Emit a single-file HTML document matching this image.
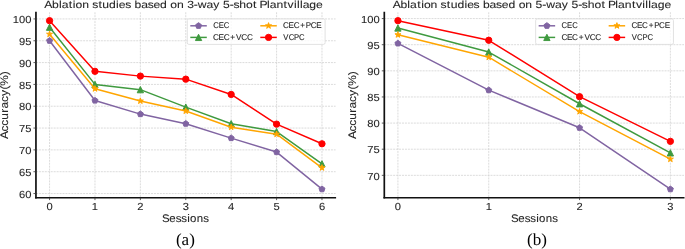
<!DOCTYPE html>
<html><head><meta charset="utf-8"><title>Ablation studies</title>
<style>html,body{margin:0;padding:0;background:#fff;width:685px;height:249px;overflow:hidden}svg{display:block;filter:blur(0.35px)}</style>
</head><body>
<svg width="685" height="249" viewBox="0 0 685 249" font-family="Liberation Sans, sans-serif" text-rendering="geometricPrecision">
<rect width="685" height="249" fill="#fff"/>
<line x1="35.95" y1="193.54" x2="335.60" y2="193.54" stroke="#d0d0d0" stroke-width="0.75" stroke-dasharray="2,0.95"/>
<line x1="35.95" y1="171.71" x2="335.60" y2="171.71" stroke="#d0d0d0" stroke-width="0.75" stroke-dasharray="2,0.95"/>
<line x1="35.95" y1="149.89" x2="335.60" y2="149.89" stroke="#d0d0d0" stroke-width="0.75" stroke-dasharray="2,0.95"/>
<line x1="35.95" y1="128.06" x2="335.60" y2="128.06" stroke="#d0d0d0" stroke-width="0.75" stroke-dasharray="2,0.95"/>
<line x1="35.95" y1="106.23" x2="335.60" y2="106.23" stroke="#d0d0d0" stroke-width="0.75" stroke-dasharray="2,0.95"/>
<line x1="35.95" y1="84.41" x2="335.60" y2="84.41" stroke="#d0d0d0" stroke-width="0.75" stroke-dasharray="2,0.95"/>
<line x1="35.95" y1="62.58" x2="335.60" y2="62.58" stroke="#d0d0d0" stroke-width="0.75" stroke-dasharray="2,0.95"/>
<line x1="35.95" y1="40.76" x2="335.60" y2="40.76" stroke="#d0d0d0" stroke-width="0.75" stroke-dasharray="2,0.95"/>
<line x1="35.95" y1="18.93" x2="335.60" y2="18.93" stroke="#d0d0d0" stroke-width="0.75" stroke-dasharray="2,0.95"/>
<line x1="49.57" y1="12.25" x2="49.57" y2="197.60" stroke="#d0d0d0" stroke-width="0.75" stroke-dasharray="2,0.95"/>
<line x1="94.97" y1="12.25" x2="94.97" y2="197.60" stroke="#d0d0d0" stroke-width="0.75" stroke-dasharray="2,0.95"/>
<line x1="140.37" y1="12.25" x2="140.37" y2="197.60" stroke="#d0d0d0" stroke-width="0.75" stroke-dasharray="2,0.95"/>
<line x1="185.78" y1="12.25" x2="185.78" y2="197.60" stroke="#d0d0d0" stroke-width="0.75" stroke-dasharray="2,0.95"/>
<line x1="231.18" y1="12.25" x2="231.18" y2="197.60" stroke="#d0d0d0" stroke-width="0.75" stroke-dasharray="2,0.95"/>
<line x1="276.58" y1="12.25" x2="276.58" y2="197.60" stroke="#d0d0d0" stroke-width="0.75" stroke-dasharray="2,0.95"/>
<line x1="321.98" y1="12.25" x2="321.98" y2="197.60" stroke="#d0d0d0" stroke-width="0.75" stroke-dasharray="2,0.95"/>
<polyline points="49.57,40.76 94.97,100.56 140.37,114.09 185.78,123.70 231.18,138.10 276.58,152.07 321.98,189.17" fill="none" stroke="#8064a2" stroke-width="1.47" stroke-linejoin="round" stroke-linecap="butt"/>
<polygon points="49.57,37.61 46.57,39.78 47.72,43.30 51.42,43.30 52.57,39.78" fill="#8064a2" stroke="#8064a2" stroke-width="0.98" stroke-linejoin="round"/>
<polygon points="94.97,97.41 91.98,99.59 93.12,103.11 96.82,103.11 97.97,99.59" fill="#8064a2" stroke="#8064a2" stroke-width="0.98" stroke-linejoin="round"/>
<polygon points="140.37,110.94 137.38,113.12 138.52,116.64 142.23,116.64 143.37,113.12" fill="#8064a2" stroke="#8064a2" stroke-width="0.98" stroke-linejoin="round"/>
<polygon points="185.78,120.55 182.78,122.72 183.92,126.24 187.63,126.24 188.77,122.72" fill="#8064a2" stroke="#8064a2" stroke-width="0.98" stroke-linejoin="round"/>
<polygon points="231.18,134.95 228.18,137.13 229.32,140.65 233.03,140.65 234.17,137.13" fill="#8064a2" stroke="#8064a2" stroke-width="0.98" stroke-linejoin="round"/>
<polygon points="276.58,148.92 273.58,151.10 274.73,154.62 278.43,154.62 279.57,151.10" fill="#8064a2" stroke="#8064a2" stroke-width="0.98" stroke-linejoin="round"/>
<polygon points="321.98,186.02 318.98,188.20 320.13,191.72 323.83,191.72 324.98,188.20" fill="#8064a2" stroke="#8064a2" stroke-width="0.98" stroke-linejoin="round"/>
<polyline points="49.57,27.22 94.97,84.41 140.37,89.65 185.78,107.11 231.18,123.70 276.58,131.55 321.98,163.86" fill="none" stroke="#3f9a3f" stroke-width="1.47" stroke-linejoin="round" stroke-linecap="butt"/>
<polygon points="49.57,24.07 46.42,30.37 52.72,30.37" fill="#3f9a3f" stroke="#3f9a3f" stroke-width="0.98" stroke-linejoin="round"/>
<polygon points="94.97,81.26 91.82,87.56 98.12,87.56" fill="#3f9a3f" stroke="#3f9a3f" stroke-width="0.98" stroke-linejoin="round"/>
<polygon points="140.37,86.50 137.22,92.80 143.52,92.80" fill="#3f9a3f" stroke="#3f9a3f" stroke-width="0.98" stroke-linejoin="round"/>
<polygon points="185.78,103.96 182.63,110.26 188.93,110.26" fill="#3f9a3f" stroke="#3f9a3f" stroke-width="0.98" stroke-linejoin="round"/>
<polygon points="231.18,120.55 228.03,126.85 234.33,126.85" fill="#3f9a3f" stroke="#3f9a3f" stroke-width="0.98" stroke-linejoin="round"/>
<polygon points="276.58,128.40 273.43,134.70 279.73,134.70" fill="#3f9a3f" stroke="#3f9a3f" stroke-width="0.98" stroke-linejoin="round"/>
<polygon points="321.98,160.71 318.83,167.01 325.13,167.01" fill="#3f9a3f" stroke="#3f9a3f" stroke-width="0.98" stroke-linejoin="round"/>
<polyline points="49.57,34.21 94.97,88.77 140.37,101.00 185.78,111.04 231.18,127.19 276.58,134.17 321.98,167.79" fill="none" stroke="#ffa500" stroke-width="1.47" stroke-linejoin="round" stroke-linecap="butt"/>
<polygon points="49.57,31.06 48.86,33.23 46.57,33.23 48.43,34.58 47.72,36.76 49.57,35.41 51.42,36.76 50.71,34.58 52.57,33.23 50.28,33.23" fill="#ffa500" stroke="#ffa500" stroke-width="0.98" stroke-linejoin="round"/>
<polygon points="94.97,85.62 94.26,87.80 91.98,87.80 93.83,89.15 93.12,91.32 94.97,89.98 96.82,91.32 96.12,89.15 97.97,87.80 95.68,87.80" fill="#ffa500" stroke="#ffa500" stroke-width="0.98" stroke-linejoin="round"/>
<polygon points="140.37,97.85 139.67,100.02 137.38,100.02 139.23,101.37 138.52,103.54 140.37,102.20 142.23,103.54 141.52,101.37 143.37,100.02 141.08,100.02" fill="#ffa500" stroke="#ffa500" stroke-width="0.98" stroke-linejoin="round"/>
<polygon points="185.78,107.89 185.07,110.06 182.78,110.06 184.63,111.41 183.92,113.58 185.78,112.24 187.63,113.58 186.92,111.41 188.77,110.06 186.48,110.06" fill="#ffa500" stroke="#ffa500" stroke-width="0.98" stroke-linejoin="round"/>
<polygon points="231.18,124.04 230.47,126.21 228.18,126.21 230.03,127.56 229.32,129.74 231.18,128.39 233.03,129.74 232.32,127.56 234.17,126.21 231.88,126.21" fill="#ffa500" stroke="#ffa500" stroke-width="0.98" stroke-linejoin="round"/>
<polygon points="276.58,131.02 275.87,133.20 273.58,133.20 275.43,134.54 274.73,136.72 276.58,135.38 278.43,136.72 277.72,134.54 279.57,133.20 277.29,133.20" fill="#ffa500" stroke="#ffa500" stroke-width="0.98" stroke-linejoin="round"/>
<polygon points="321.98,164.64 321.27,166.81 318.98,166.81 320.84,168.16 320.13,170.33 321.98,168.99 323.83,170.33 323.12,168.16 324.98,166.81 322.69,166.81" fill="#ffa500" stroke="#ffa500" stroke-width="0.98" stroke-linejoin="round"/>
<polyline points="49.57,20.68 94.97,71.31 140.37,76.11 185.78,79.17 231.18,94.45 276.58,124.13 321.98,143.78" fill="none" stroke="#ff0000" stroke-width="1.47" stroke-linejoin="round" stroke-linecap="butt"/>
<circle cx="49.57" cy="20.68" r="3.15" fill="#ff0000" stroke="#ff0000" stroke-width="0.98"/>
<circle cx="94.97" cy="71.31" r="3.15" fill="#ff0000" stroke="#ff0000" stroke-width="0.98"/>
<circle cx="140.37" cy="76.11" r="3.15" fill="#ff0000" stroke="#ff0000" stroke-width="0.98"/>
<circle cx="185.78" cy="79.17" r="3.15" fill="#ff0000" stroke="#ff0000" stroke-width="0.98"/>
<circle cx="231.18" cy="94.45" r="3.15" fill="#ff0000" stroke="#ff0000" stroke-width="0.98"/>
<circle cx="276.58" cy="124.13" r="3.15" fill="#ff0000" stroke="#ff0000" stroke-width="0.98"/>
<circle cx="321.98" cy="143.78" r="3.15" fill="#ff0000" stroke="#ff0000" stroke-width="0.98"/>
<rect x="187.30" y="18.90" width="137.80" height="25.50" rx="1.6" fill="#ffffff" fill-opacity="0.8" stroke="#dadada" stroke-width="0.8"/>
<line x1="190.30" y1="25.80" x2="206.80" y2="25.80" stroke="#8064a2" stroke-width="1.47"/>
<polygon points="198.55,22.65 195.55,24.83 196.70,28.35 200.40,28.35 201.55,24.83" fill="#8064a2" stroke="#8064a2" stroke-width="0.98" stroke-linejoin="round"/>
<text x="0.02 6.05 11.62" y="0" font-size="8.38" fill="#262626" stroke="#262626" stroke-width="0.109" transform="translate(213.20 28.45) scale(0.9149 1)">CEC</text>
<line x1="190.30" y1="37.40" x2="206.80" y2="37.40" stroke="#3f9a3f" stroke-width="1.47"/>
<polygon points="198.55,34.25 195.40,40.55 201.70,40.55" fill="#3f9a3f" stroke="#3f9a3f" stroke-width="0.98" stroke-linejoin="round"/>
<text x="-0.18 5.46 10.65 17.48 23.33 28.72 34.41" y="0" font-size="8.38" fill="#262626" stroke="#262626" stroke-width="0.102" transform="translate(213.20 40.05) scale(0.9801 1)">CEC+VCC</text>
<line x1="260.30" y1="25.80" x2="276.80" y2="25.80" stroke="#ffa500" stroke-width="1.47"/>
<polygon points="268.55,22.65 267.84,24.83 265.55,24.83 267.41,26.17 266.70,28.35 268.55,27.00 270.40,28.35 269.69,26.17 271.55,24.83 269.26,24.83" fill="#ffa500" stroke="#ffa500" stroke-width="0.98" stroke-linejoin="round"/>
<text x="-0.13 5.62 10.90 17.85 23.48 28.65 34.40" y="0" font-size="8.38" fill="#262626" stroke="#262626" stroke-width="0.104" transform="translate(283.20 28.45) scale(0.9620 1)">CEC+PCE</text>
<line x1="260.30" y1="37.40" x2="276.80" y2="37.40" stroke="#ff0000" stroke-width="1.47"/>
<circle cx="268.55" cy="37.40" r="3.15" fill="#ff0000" stroke="#ff0000" stroke-width="0.98"/>
<text x="0.17 5.94 11.81 17.23" y="0" font-size="8.38" fill="#262626" stroke="#262626" stroke-width="0.109" transform="translate(283.20 40.05) scale(0.9199 1)">VCPC</text>
<line x1="35.95" y1="11.75" x2="35.95" y2="198.45" stroke="#111111" stroke-width="1.7"/>
<line x1="35.10" y1="197.75" x2="336.10" y2="197.75" stroke="#111111" stroke-width="1.7"/>
<line x1="33.45" y1="193.54" x2="35.95" y2="193.54" stroke="#333" stroke-width="0.8"/>
<text x="-11.36 -5.68" y="0" font-size="10.21" fill="#262626" stroke="#262626" stroke-width="0.091" transform="translate(31.50 197.79) scale(1.0947 1)">60</text>
<line x1="33.45" y1="171.71" x2="35.95" y2="171.71" stroke="#333" stroke-width="0.8"/>
<text x="-11.36 -5.68" y="0" font-size="10.21" fill="#262626" stroke="#262626" stroke-width="0.091" transform="translate(31.50 175.96) scale(1.0947 1)">65</text>
<line x1="33.45" y1="149.89" x2="35.95" y2="149.89" stroke="#333" stroke-width="0.8"/>
<text x="-11.36 -5.68" y="0" font-size="10.21" fill="#262626" stroke="#262626" stroke-width="0.091" transform="translate(31.50 154.14) scale(1.0947 1)">70</text>
<line x1="33.45" y1="128.06" x2="35.95" y2="128.06" stroke="#333" stroke-width="0.8"/>
<text x="-11.36 -5.68" y="0" font-size="10.21" fill="#262626" stroke="#262626" stroke-width="0.091" transform="translate(31.50 132.31) scale(1.0947 1)">75</text>
<line x1="33.45" y1="106.23" x2="35.95" y2="106.23" stroke="#333" stroke-width="0.8"/>
<text x="-11.36 -5.68" y="0" font-size="10.21" fill="#262626" stroke="#262626" stroke-width="0.091" transform="translate(31.50 110.48) scale(1.0947 1)">80</text>
<line x1="33.45" y1="84.41" x2="35.95" y2="84.41" stroke="#333" stroke-width="0.8"/>
<text x="-11.36 -5.68" y="0" font-size="10.21" fill="#262626" stroke="#262626" stroke-width="0.091" transform="translate(31.50 88.66) scale(1.0947 1)">85</text>
<line x1="33.45" y1="62.58" x2="35.95" y2="62.58" stroke="#333" stroke-width="0.8"/>
<text x="-11.36 -5.68" y="0" font-size="10.21" fill="#262626" stroke="#262626" stroke-width="0.091" transform="translate(31.50 66.83) scale(1.0947 1)">90</text>
<line x1="33.45" y1="40.76" x2="35.95" y2="40.76" stroke="#333" stroke-width="0.8"/>
<text x="-11.36 -5.68" y="0" font-size="10.21" fill="#262626" stroke="#262626" stroke-width="0.091" transform="translate(31.50 45.01) scale(1.0947 1)">95</text>
<line x1="33.45" y1="18.93" x2="35.95" y2="18.93" stroke="#333" stroke-width="0.8"/>
<text x="-17.03 -11.36 -5.68" y="0" font-size="10.21" fill="#262626" stroke="#262626" stroke-width="0.091" transform="translate(31.50 23.18) scale(1.0947 1)">100</text>
<line x1="49.57" y1="197.60" x2="49.57" y2="200.10" stroke="#333" stroke-width="0.8"/>
<text x="-2.84" y="0" font-size="10.21" fill="#262626" stroke="#262626" stroke-width="0.091" transform="translate(49.57 209.80) scale(1.0947 1)">0</text>
<line x1="94.97" y1="197.60" x2="94.97" y2="200.10" stroke="#333" stroke-width="0.8"/>
<text x="-2.84" y="0" font-size="10.21" fill="#262626" stroke="#262626" stroke-width="0.091" transform="translate(94.97 209.80) scale(1.0947 1)">1</text>
<line x1="140.37" y1="197.60" x2="140.37" y2="200.10" stroke="#333" stroke-width="0.8"/>
<text x="-2.84" y="0" font-size="10.21" fill="#262626" stroke="#262626" stroke-width="0.091" transform="translate(140.37 209.80) scale(1.0947 1)">2</text>
<line x1="185.78" y1="197.60" x2="185.78" y2="200.10" stroke="#333" stroke-width="0.8"/>
<text x="-2.84" y="0" font-size="10.21" fill="#262626" stroke="#262626" stroke-width="0.091" transform="translate(185.78 209.80) scale(1.0947 1)">3</text>
<line x1="231.18" y1="197.60" x2="231.18" y2="200.10" stroke="#333" stroke-width="0.8"/>
<text x="-2.84" y="0" font-size="10.21" fill="#262626" stroke="#262626" stroke-width="0.091" transform="translate(231.18 209.80) scale(1.0947 1)">4</text>
<line x1="276.58" y1="197.60" x2="276.58" y2="200.10" stroke="#333" stroke-width="0.8"/>
<text x="-2.84" y="0" font-size="10.21" fill="#262626" stroke="#262626" stroke-width="0.091" transform="translate(276.58 209.80) scale(1.0947 1)">5</text>
<line x1="321.98" y1="197.60" x2="321.98" y2="200.10" stroke="#333" stroke-width="0.8"/>
<text x="-2.84" y="0" font-size="10.21" fill="#262626" stroke="#262626" stroke-width="0.091" transform="translate(321.98 209.80) scale(1.0947 1)">6</text>
<text x="-22.65 -15.63 -9.49 -4.14 1.48 4.21 10.60 16.83" y="0" font-size="10.96" fill="#262626" stroke="#262626" stroke-width="0.095" transform="translate(185.60 222.30) scale(1.0478 1)">Sessions</text>
<text x="-31.35 -24.35 -19.09 -13.56 -7.18 -3.35 2.70 8.33 14.09 17.66 27.32" y="0" font-size="10.96" fill="#262626" stroke="#262626" stroke-width="0.092" transform="translate(8.10 104.95) rotate(-90) scale(1.0891 1)">Accuracy(%)</text>
<text x="-118.22 -111.64 -105.75 -103.42 -97.41 -94.07 -91.74 -86.06 -80.29 -77.61 -72.31 -69.07 -63.29 -57.41 -55.06 -49.59 -44.63 -41.72 -36.04 -30.58 -25.70 -20.00 -14.22 -11.42 -5.75 0.02 2.93 8.63 11.99 19.37 25.14 30.44 33.35 39.04 42.20 47.17 52.84 58.85 62.09 64.28 70.59 72.92 78.60 84.71 88.05 93.44 95.97 98.51 100.84 106.52 112.22" y="0" font-size="10.32" fill="#262626" stroke="#262626" stroke-width="0.085" transform="translate(183.70 8.00) scale(1.1797 1)">Ablation studies based on 3-way 5-shot Plantvillage</text>
<text x="185.40" y="245.40" font-family="Liberation Serif, serif" font-size="17.0" text-anchor="middle" fill="#000">(a)</text>
<line x1="384.30" y1="175.34" x2="684.00" y2="175.34" stroke="#d0d0d0" stroke-width="0.75" stroke-dasharray="2,0.95"/>
<line x1="384.30" y1="149.21" x2="684.00" y2="149.21" stroke="#d0d0d0" stroke-width="0.75" stroke-dasharray="2,0.95"/>
<line x1="384.30" y1="123.08" x2="684.00" y2="123.08" stroke="#d0d0d0" stroke-width="0.75" stroke-dasharray="2,0.95"/>
<line x1="384.30" y1="96.96" x2="684.00" y2="96.96" stroke="#d0d0d0" stroke-width="0.75" stroke-dasharray="2,0.95"/>
<line x1="384.30" y1="70.83" x2="684.00" y2="70.83" stroke="#d0d0d0" stroke-width="0.75" stroke-dasharray="2,0.95"/>
<line x1="384.30" y1="44.70" x2="684.00" y2="44.70" stroke="#d0d0d0" stroke-width="0.75" stroke-dasharray="2,0.95"/>
<line x1="384.30" y1="18.57" x2="684.00" y2="18.57" stroke="#d0d0d0" stroke-width="0.75" stroke-dasharray="2,0.95"/>
<line x1="397.92" y1="12.25" x2="397.92" y2="197.60" stroke="#d0d0d0" stroke-width="0.75" stroke-dasharray="2,0.95"/>
<line x1="488.74" y1="12.25" x2="488.74" y2="197.60" stroke="#d0d0d0" stroke-width="0.75" stroke-dasharray="2,0.95"/>
<line x1="579.56" y1="12.25" x2="579.56" y2="197.60" stroke="#d0d0d0" stroke-width="0.75" stroke-dasharray="2,0.95"/>
<line x1="670.38" y1="12.25" x2="670.38" y2="197.60" stroke="#d0d0d0" stroke-width="0.75" stroke-dasharray="2,0.95"/>
<polyline points="397.92,43.39 488.74,90.16 579.56,127.79 670.38,189.19" fill="none" stroke="#8064a2" stroke-width="1.47" stroke-linejoin="round" stroke-linecap="butt"/>
<polygon points="397.92,40.24 394.93,42.42 396.07,45.94 399.77,45.94 400.92,42.42" fill="#8064a2" stroke="#8064a2" stroke-width="0.98" stroke-linejoin="round"/>
<polygon points="488.74,87.01 485.75,89.19 486.89,92.71 490.59,92.71 491.74,89.19" fill="#8064a2" stroke="#8064a2" stroke-width="0.98" stroke-linejoin="round"/>
<polygon points="579.56,124.64 576.56,126.81 577.71,130.34 581.41,130.34 582.55,126.81" fill="#8064a2" stroke="#8064a2" stroke-width="0.98" stroke-linejoin="round"/>
<polygon points="670.38,186.04 667.38,188.21 668.53,191.74 672.23,191.74 673.37,188.21" fill="#8064a2" stroke="#8064a2" stroke-width="0.98" stroke-linejoin="round"/>
<polyline points="397.92,27.98 488.74,52.02 579.56,103.75 670.38,152.87" fill="none" stroke="#3f9a3f" stroke-width="1.47" stroke-linejoin="round" stroke-linecap="butt"/>
<polygon points="397.92,24.83 394.77,31.13 401.07,31.13" fill="#3f9a3f" stroke="#3f9a3f" stroke-width="0.98" stroke-linejoin="round"/>
<polygon points="488.74,48.87 485.59,55.17 491.89,55.17" fill="#3f9a3f" stroke="#3f9a3f" stroke-width="0.98" stroke-linejoin="round"/>
<polygon points="579.56,100.60 576.41,106.90 582.71,106.90" fill="#3f9a3f" stroke="#3f9a3f" stroke-width="0.98" stroke-linejoin="round"/>
<polygon points="670.38,149.72 667.23,156.02 673.53,156.02" fill="#3f9a3f" stroke="#3f9a3f" stroke-width="0.98" stroke-linejoin="round"/>
<polyline points="397.92,34.77 488.74,57.24 579.56,111.59 670.38,159.14" fill="none" stroke="#ffa500" stroke-width="1.47" stroke-linejoin="round" stroke-linecap="butt"/>
<polygon points="397.92,31.62 397.22,33.80 394.93,33.80 396.78,35.14 396.07,37.32 397.92,35.98 399.77,37.32 399.07,35.14 400.92,33.80 398.63,33.80" fill="#ffa500" stroke="#ffa500" stroke-width="0.98" stroke-linejoin="round"/>
<polygon points="488.74,54.09 488.03,56.27 485.75,56.27 487.60,57.61 486.89,59.79 488.74,58.45 490.59,59.79 489.89,57.61 491.74,56.27 489.45,56.27" fill="#ffa500" stroke="#ffa500" stroke-width="0.98" stroke-linejoin="round"/>
<polygon points="579.56,108.44 578.85,110.61 576.56,110.61 578.41,111.96 577.71,114.14 579.56,112.79 581.41,114.14 580.70,111.96 582.55,110.61 580.27,110.61" fill="#ffa500" stroke="#ffa500" stroke-width="0.98" stroke-linejoin="round"/>
<polygon points="670.38,155.99 669.67,158.17 667.38,158.17 669.23,159.51 668.53,161.69 670.38,160.34 672.23,161.69 671.52,159.51 673.37,158.17 671.08,158.17" fill="#ffa500" stroke="#ffa500" stroke-width="0.98" stroke-linejoin="round"/>
<polyline points="397.92,20.66 488.74,40.26 579.56,96.69 670.38,141.37" fill="none" stroke="#ff0000" stroke-width="1.47" stroke-linejoin="round" stroke-linecap="butt"/>
<circle cx="397.92" cy="20.66" r="3.15" fill="#ff0000" stroke="#ff0000" stroke-width="0.98"/>
<circle cx="488.74" cy="40.26" r="3.15" fill="#ff0000" stroke="#ff0000" stroke-width="0.98"/>
<circle cx="579.56" cy="96.69" r="3.15" fill="#ff0000" stroke="#ff0000" stroke-width="0.98"/>
<circle cx="670.38" cy="141.37" r="3.15" fill="#ff0000" stroke="#ff0000" stroke-width="0.98"/>
<rect x="535.65" y="18.90" width="137.80" height="25.50" rx="1.6" fill="#ffffff" fill-opacity="0.8" stroke="#dadada" stroke-width="0.8"/>
<line x1="538.65" y1="25.80" x2="555.15" y2="25.80" stroke="#8064a2" stroke-width="1.47"/>
<polygon points="546.90,22.65 543.90,24.83 545.05,28.35 548.75,28.35 549.90,24.83" fill="#8064a2" stroke="#8064a2" stroke-width="0.98" stroke-linejoin="round"/>
<text x="0.02 6.05 11.62" y="0" font-size="8.38" fill="#262626" stroke="#262626" stroke-width="0.109" transform="translate(561.55 28.45) scale(0.9149 1)">CEC</text>
<line x1="538.65" y1="37.40" x2="555.15" y2="37.40" stroke="#3f9a3f" stroke-width="1.47"/>
<polygon points="546.90,34.25 543.75,40.55 550.05,40.55" fill="#3f9a3f" stroke="#3f9a3f" stroke-width="0.98" stroke-linejoin="round"/>
<text x="-0.18 5.46 10.65 17.48 23.33 28.72 34.41" y="0" font-size="8.38" fill="#262626" stroke="#262626" stroke-width="0.102" transform="translate(561.55 40.05) scale(0.9801 1)">CEC+VCC</text>
<line x1="608.65" y1="25.80" x2="625.15" y2="25.80" stroke="#ffa500" stroke-width="1.47"/>
<polygon points="616.90,22.65 616.19,24.83 613.90,24.83 615.76,26.17 615.05,28.35 616.90,27.00 618.75,28.35 618.04,26.17 619.90,24.83 617.61,24.83" fill="#ffa500" stroke="#ffa500" stroke-width="0.98" stroke-linejoin="round"/>
<text x="-0.13 5.62 10.90 17.85 23.48 28.65 34.40" y="0" font-size="8.38" fill="#262626" stroke="#262626" stroke-width="0.104" transform="translate(631.55 28.45) scale(0.9620 1)">CEC+PCE</text>
<line x1="608.65" y1="37.40" x2="625.15" y2="37.40" stroke="#ff0000" stroke-width="1.47"/>
<circle cx="616.90" cy="37.40" r="3.15" fill="#ff0000" stroke="#ff0000" stroke-width="0.98"/>
<text x="0.17 5.94 11.81 17.23" y="0" font-size="8.38" fill="#262626" stroke="#262626" stroke-width="0.109" transform="translate(631.55 40.05) scale(0.9199 1)">VCPC</text>
<line x1="384.30" y1="11.75" x2="384.30" y2="198.45" stroke="#111111" stroke-width="1.7"/>
<line x1="383.45" y1="197.75" x2="684.50" y2="197.75" stroke="#111111" stroke-width="1.7"/>
<line x1="381.80" y1="175.34" x2="384.30" y2="175.34" stroke="#333" stroke-width="0.8"/>
<text x="-11.36 -5.68" y="0" font-size="10.21" fill="#262626" stroke="#262626" stroke-width="0.091" transform="translate(379.75 179.59) scale(1.0947 1)">70</text>
<line x1="381.80" y1="149.21" x2="384.30" y2="149.21" stroke="#333" stroke-width="0.8"/>
<text x="-11.36 -5.68" y="0" font-size="10.21" fill="#262626" stroke="#262626" stroke-width="0.091" transform="translate(379.75 153.46) scale(1.0947 1)">75</text>
<line x1="381.80" y1="123.08" x2="384.30" y2="123.08" stroke="#333" stroke-width="0.8"/>
<text x="-11.36 -5.68" y="0" font-size="10.21" fill="#262626" stroke="#262626" stroke-width="0.091" transform="translate(379.75 127.33) scale(1.0947 1)">80</text>
<line x1="381.80" y1="96.96" x2="384.30" y2="96.96" stroke="#333" stroke-width="0.8"/>
<text x="-11.36 -5.68" y="0" font-size="10.21" fill="#262626" stroke="#262626" stroke-width="0.091" transform="translate(379.75 101.21) scale(1.0947 1)">85</text>
<line x1="381.80" y1="70.83" x2="384.30" y2="70.83" stroke="#333" stroke-width="0.8"/>
<text x="-11.36 -5.68" y="0" font-size="10.21" fill="#262626" stroke="#262626" stroke-width="0.091" transform="translate(379.75 75.08) scale(1.0947 1)">90</text>
<line x1="381.80" y1="44.70" x2="384.30" y2="44.70" stroke="#333" stroke-width="0.8"/>
<text x="-11.36 -5.68" y="0" font-size="10.21" fill="#262626" stroke="#262626" stroke-width="0.091" transform="translate(379.75 48.95) scale(1.0947 1)">95</text>
<line x1="381.80" y1="18.57" x2="384.30" y2="18.57" stroke="#333" stroke-width="0.8"/>
<text x="-17.03 -11.36 -5.68" y="0" font-size="10.21" fill="#262626" stroke="#262626" stroke-width="0.091" transform="translate(379.75 22.82) scale(1.0947 1)">100</text>
<line x1="397.92" y1="197.60" x2="397.92" y2="200.10" stroke="#333" stroke-width="0.8"/>
<text x="-2.84" y="0" font-size="10.21" fill="#262626" stroke="#262626" stroke-width="0.091" transform="translate(397.92 209.80) scale(1.0947 1)">0</text>
<line x1="488.74" y1="197.60" x2="488.74" y2="200.10" stroke="#333" stroke-width="0.8"/>
<text x="-2.84" y="0" font-size="10.21" fill="#262626" stroke="#262626" stroke-width="0.091" transform="translate(488.74 209.80) scale(1.0947 1)">1</text>
<line x1="579.56" y1="197.60" x2="579.56" y2="200.10" stroke="#333" stroke-width="0.8"/>
<text x="-2.84" y="0" font-size="10.21" fill="#262626" stroke="#262626" stroke-width="0.091" transform="translate(579.56 209.80) scale(1.0947 1)">2</text>
<line x1="670.38" y1="197.60" x2="670.38" y2="200.10" stroke="#333" stroke-width="0.8"/>
<text x="-2.84" y="0" font-size="10.21" fill="#262626" stroke="#262626" stroke-width="0.091" transform="translate(670.38 209.80) scale(1.0947 1)">3</text>
<text x="-22.65 -15.63 -9.49 -4.14 1.48 4.21 10.60 16.83" y="0" font-size="10.96" fill="#262626" stroke="#262626" stroke-width="0.095" transform="translate(534.65 222.30) scale(1.0478 1)">Sessions</text>
<text x="-31.35 -24.35 -19.09 -13.56 -7.18 -3.35 2.70 8.33 14.09 17.66 27.32" y="0" font-size="10.96" fill="#262626" stroke="#262626" stroke-width="0.092" transform="translate(356.45 104.95) rotate(-90) scale(1.0891 1)">Accuracy(%)</text>
<text x="-118.22 -111.64 -105.75 -103.42 -97.41 -94.07 -91.74 -86.06 -80.29 -77.61 -72.31 -69.07 -63.29 -57.41 -55.06 -49.59 -44.63 -41.72 -36.04 -30.58 -25.70 -20.00 -14.22 -11.42 -5.75 0.02 2.93 8.63 11.99 19.37 25.14 30.44 33.35 39.04 42.20 47.17 52.84 58.85 62.09 64.28 70.59 72.92 78.60 84.71 88.05 93.44 95.97 98.51 100.84 106.52 112.22" y="0" font-size="10.32" fill="#262626" stroke="#262626" stroke-width="0.085" transform="translate(532.10 8.00) scale(1.1797 1)">Ablation studies based on 5-way 5-shot Plantvillage</text>
<text x="536.95" y="245.40" font-family="Liberation Serif, serif" font-size="17.0" text-anchor="middle" fill="#000">(b)</text>
</svg>
</body></html>
